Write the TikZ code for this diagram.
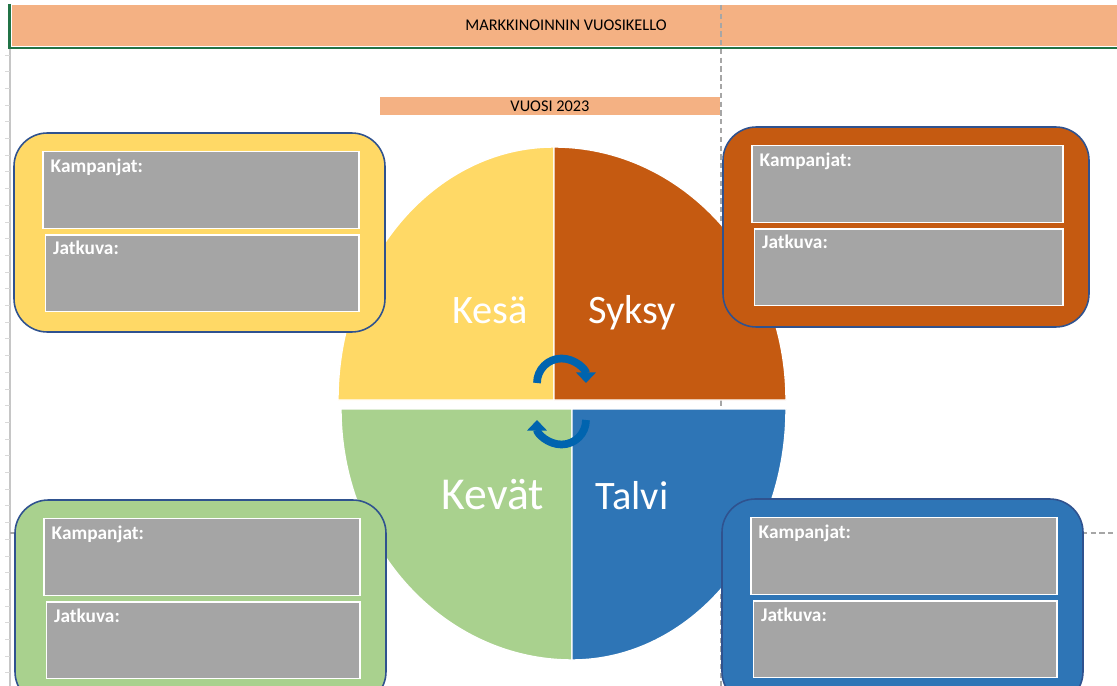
\documentclass[tikz,border=0pt]{standalone}
\usepackage{fontspec}
\setmainfont{Carlito}
\usetikzlibrary{arrows.meta}
\definecolor{hdrorange}{RGB}{244,177,131}
\definecolor{xlgreen}{RGB}{33,115,70}
\definecolor{kesacol}{RGB}{255,217,102}
\definecolor{syksycol}{RGB}{197,90,17}
\definecolor{kevatcol}{RGB}{169,209,142}
\definecolor{talvicol}{RGB}{46,117,182}
\definecolor{cellgray}{RGB}{165,165,165}
\definecolor{edgeblue}{RGB}{47,82,143}
\definecolor{turnblue}{RGB}{0,100,175}

\begin{document}
\begin{tikzpicture}[x=0.02cm,y=-0.02cm,line width=0.8pt,>=Stealth,
  season/.style={font=\fontsize{23}{26}\selectfont,text=white,anchor=base},
  fieldlbl/.style={font=\fontsize{11}{13}\selectfont\bfseries,text=white,anchor=base west,inner sep=0pt},
  field/.style={fill=cellgray,draw=white,line width=1pt},
  card/.style={draw=edgeblue,line width=0.9pt,rounded corners=19pt},
  wedge/.style={draw=white,line width=0.8pt},
  pagebreak/.style={draw=gray!70,line width=0.7pt,dash pattern=on 3pt off 2pt},
  turn/.style={draw=turnblue,line width=4.4pt,-{Triangle[width=11pt,length=6pt]}}]
\useasboundingbox (0,0) rectangle (1117,686);
\clip (0,0) rectangle (1117,686);
% ---------- otsikkorivi ----------
\fill[hdrorange] (12,5) rectangle (1117,46);
\draw[xlgreen,line width=1.3pt] (9.5,4) -- (9.5,48) -- (1117,48);
\node (otsikko) at (566,25) {\fontsize{9.3}{11}\selectfont MARKKINOINNIN VUOSIKELLO};
% ---------- taulukon reuna ja sivunvaihdot ----------
\draw[gray!45,line width=1pt] (10,49) -- (10,686);
\foreach \i in {0,...,37}{
  \pgfmathsetmacro\y{55+16.7*\i}
  \draw[gray!30,line width=0.5pt] (5,\y) -- (10,\y);
}
\draw[pagebreak] (721,5) -- (721,686);
\draw[pagebreak] (10,533) -- (1117,533);
% ---------- vuosi ----------
\fill[hdrorange] (380,97) rectangle (720,115);
\node (vuosi) at (550,106.5) {\fontsize{9.3}{11}\selectfont VUOSI 2023};
% ---------- vuosikello: neljä lohkoa ----------
\path[fill=kesacol,wedge] (554,400) -- (338,400) arc[start angle=180,end angle=270,x radius=216,y radius=253] -- cycle;
\path[fill=syksycol,wedge] (554,400) -- (554,147) arc[start angle=270,end angle=360,x radius=232,y radius=253] -- cycle;
\path[fill=kevatcol,wedge] (572,409) -- (341,409) arc[start angle=180,end angle=90,x radius=231,y radius=251] -- cycle;
\path[fill=talvicol,wedge] (572,409) -- (572,660) arc[start angle=90,end angle=0,x radius=214,y radius=251] -- cycle;
\node[season] (kesa) at (490,323) {Kesä};
\node[season] (syksy) at (632,323) {Syksy};
\node[season,font=\fontsize{26}{30}\selectfont] (kevat) at (493,509) {Kevät};
\node[season] (talvi) at (632,509) {Talvi};
% kiertonuolet keskellä
\draw[turn] (537,383) arc[start angle=180,end angle=360,radius=24.5];
\draw[turn] (586,420) arc[start angle=0,end angle=180,radius=24.5];
% ---------- kortit: Kampanjat / Jatkuva ----------
\foreach \l/\t/\r/\b/\c [count=\n] in {14/133/385/332/kesacol, 723/127/1089/327/syksycol,
                                        15/500/386/705/kevatcol, 722/499/1083/705/talvicol}{
  \path[card,fill=\c] (\l,\t) rectangle (\r,\b);
  \draw[field] (\l+29,\t+18.5) rectangle (\r-26,\t+95.5);
  \draw[field] (\l+31.5,\t+102) rectangle (\r-26,\t+178.5);
  \node[fieldlbl] (kamp\n) at (\l+36,\t+39.5) {Kampanjat:};
  \node[fieldlbl] (jatk\n) at (\l+38.5,\t+122) {Jatkuva:};
}
\end{tikzpicture}
\end{document}
